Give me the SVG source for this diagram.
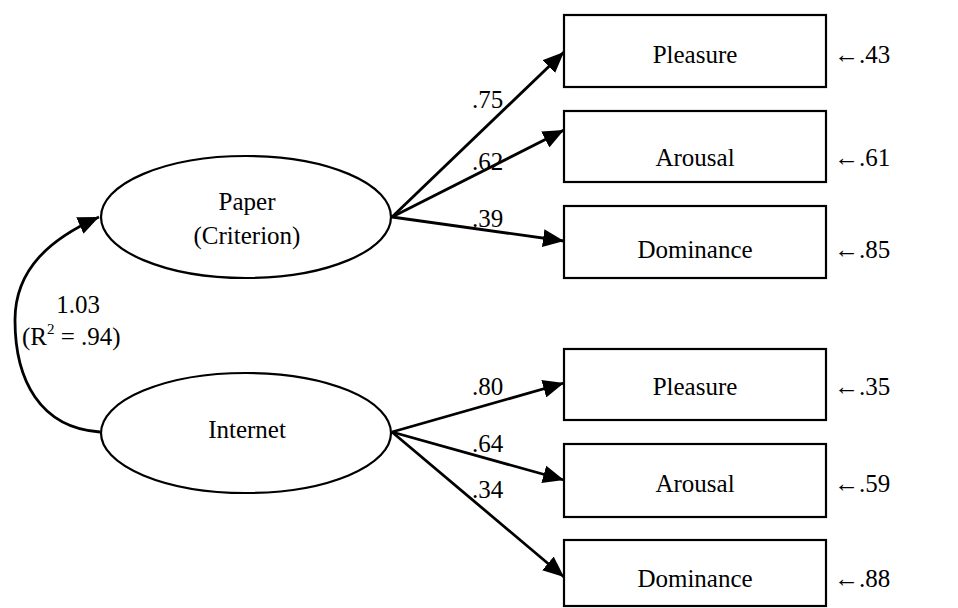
<svg xmlns="http://www.w3.org/2000/svg" width="958" height="608" viewBox="0 0 958 608">
<style>
text{font-family:"Liberation Serif","Times New Roman",serif;font-size:25px;fill:#000}
.n{text-anchor:middle}
.shape{fill:#fff;stroke:#000;stroke-width:2.2}
.c{fill:none;stroke:#000;stroke-width:2.8}
</style>
<defs>
<marker id="ah" markerUnits="userSpaceOnUse" markerWidth="22" markerHeight="18" refX="21" refY="9" orient="auto">
<path d="M0,0 L21,9 L0,18 z" fill="#000"/>
</marker>
</defs>
<rect width="958" height="608" fill="#fff"/>
<g id="connectors">
<path class="c" d="M100,432 C40,428 15,380 15,320 C15,268 52,238 99,217" marker-end="url(#ah)"/>
<line class="c" x1="392" y1="217" x2="564" y2="52" marker-end="url(#ah)"/>
<line class="c" x1="392" y1="217" x2="564" y2="130" marker-end="url(#ah)"/>
<line class="c" x1="392" y1="217" x2="564" y2="241" marker-end="url(#ah)"/>
<line class="c" x1="392" y1="432" x2="564" y2="383" marker-end="url(#ah)"/>
<line class="c" x1="392" y1="432" x2="564" y2="480" marker-end="url(#ah)"/>
<line class="c" x1="392" y1="432" x2="564" y2="577" marker-end="url(#ah)"/>
<text x="472" y="108">.75</text>
<text x="472" y="170">.62</text>
<text x="472" y="227">.39</text>
<text x="472" y="395">.80</text>
<text x="472" y="452">.64</text>
<text x="472" y="498">.34</text>
<text class="n" x="78" y="313">1.03</text>
<text x="22" y="345">(R<tspan font-size="15" dy="-11">2</tspan><tspan dy="11"> = .94)</tspan></text>
</g>
<g id="paper">
<ellipse class="shape" cx="246" cy="217" rx="145" ry="61"/>
<text class="n" x="247" y="210">Paper</text>
<text class="n" x="247" y="244">(Criterion)</text>
</g>
<g id="internet">
<ellipse class="shape" cx="246" cy="433" rx="145" ry="60"/>
<text class="n" x="247" y="438">Internet</text>
</g>
<g id="p-pleasure">
<rect class="shape" x="564" y="15" width="262" height="72"/>
<text class="n" x="695" y="63">Pleasure</text>
<text x="834" y="63">←.43</text>
</g>
<g id="p-arousal">
<rect class="shape" x="564" y="111" width="262" height="71"/>
<text class="n" x="695" y="166">Arousal</text>
<text x="834" y="166">←.61</text>
</g>
<g id="p-dominance">
<rect class="shape" x="564" y="206" width="262" height="72"/>
<text class="n" x="695" y="258">Dominance</text>
<text x="834" y="258">←.85</text>
</g>
<g id="i-pleasure">
<rect class="shape" x="564" y="349" width="262" height="71"/>
<text class="n" x="695" y="395">Pleasure</text>
<text x="834" y="395">←.35</text>
</g>
<g id="i-arousal">
<rect class="shape" x="564" y="444" width="262" height="73"/>
<text class="n" x="695" y="492">Arousal</text>
<text x="834" y="492">←.59</text>
</g>
<g id="i-dominance">
<rect class="shape" x="564" y="540" width="262" height="66"/>
<text class="n" x="695" y="587">Dominance</text>
<text x="834" y="587">←.88</text>
</g>
</svg>
